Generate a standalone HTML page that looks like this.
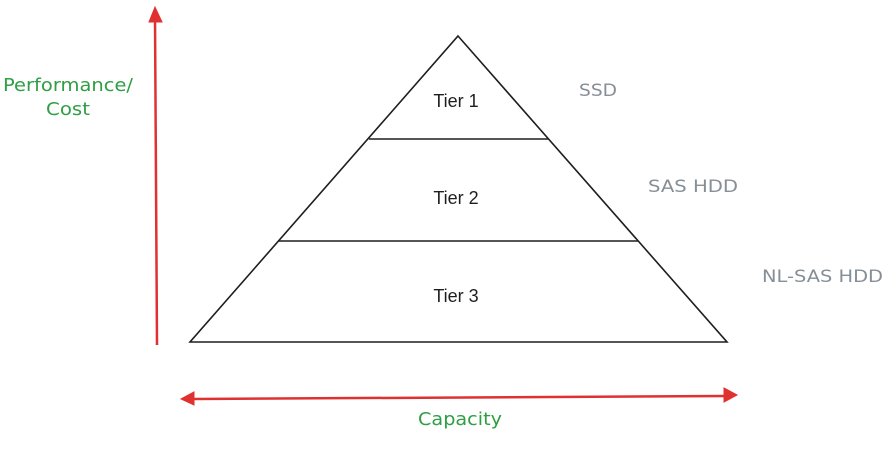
<!DOCTYPE html>
<html><head><style>
html,body{margin:0;padding:0;background:#fff;}
svg{display:block;}
.h{font-family:"Comic Sans MS","DejaVu Sans",sans-serif;}
</style></head><body>
<svg width="886" height="450" xmlns="http://www.w3.org/2000/svg">
<rect width="886" height="450" fill="#fff"/>
<g stroke="#1e1e1e" stroke-width="1.6" fill="none">
<polygon points="458,36 727,342 190,342"/>
<line x1="369" y1="139" x2="548" y2="139"/>
<line x1="278" y1="241" x2="638" y2="241"/>
</g>
<g font-family="Liberation Sans, sans-serif" font-size="18" fill="#1e1e1e" text-anchor="middle">
<text x="456" y="107">Tier 1</text>
<text x="456" y="204">Tier 2</text>
<text x="456" y="302">Tier 3</text>
</g>
<g class="h" font-size="17" fill="#868e96">
<text x="579" y="96" textLength="38" lengthAdjust="spacingAndGlyphs">SSD</text>
<text x="648" y="192" textLength="90" lengthAdjust="spacingAndGlyphs">SAS HDD</text>
<text x="762" y="282" textLength="121" lengthAdjust="spacingAndGlyphs">NL-SAS HDD</text>
</g>
<g stroke="#e03131" stroke-width="2.5" fill="#e03131">
<line x1="157" y1="345" x2="155" y2="18"/>
<polygon points="155,7 149,22 162,22" stroke-width="1"/>
<line x1="193" y1="399" x2="725" y2="396"/>
<polygon points="181,399 194,392 194,405" stroke-width="1"/>
<polygon points="737,395 724,388 724,402" stroke-width="1"/>
</g>
<g class="h" font-size="18" fill="#2f9e44">
<text x="3" y="91" textLength="130" lengthAdjust="spacingAndGlyphs">Performance/</text>
<text x="46" y="115" textLength="44" lengthAdjust="spacingAndGlyphs">Cost</text>
<text x="418" y="425" textLength="84" lengthAdjust="spacingAndGlyphs">Capacity</text>
</g>
</svg>
</body></html>
